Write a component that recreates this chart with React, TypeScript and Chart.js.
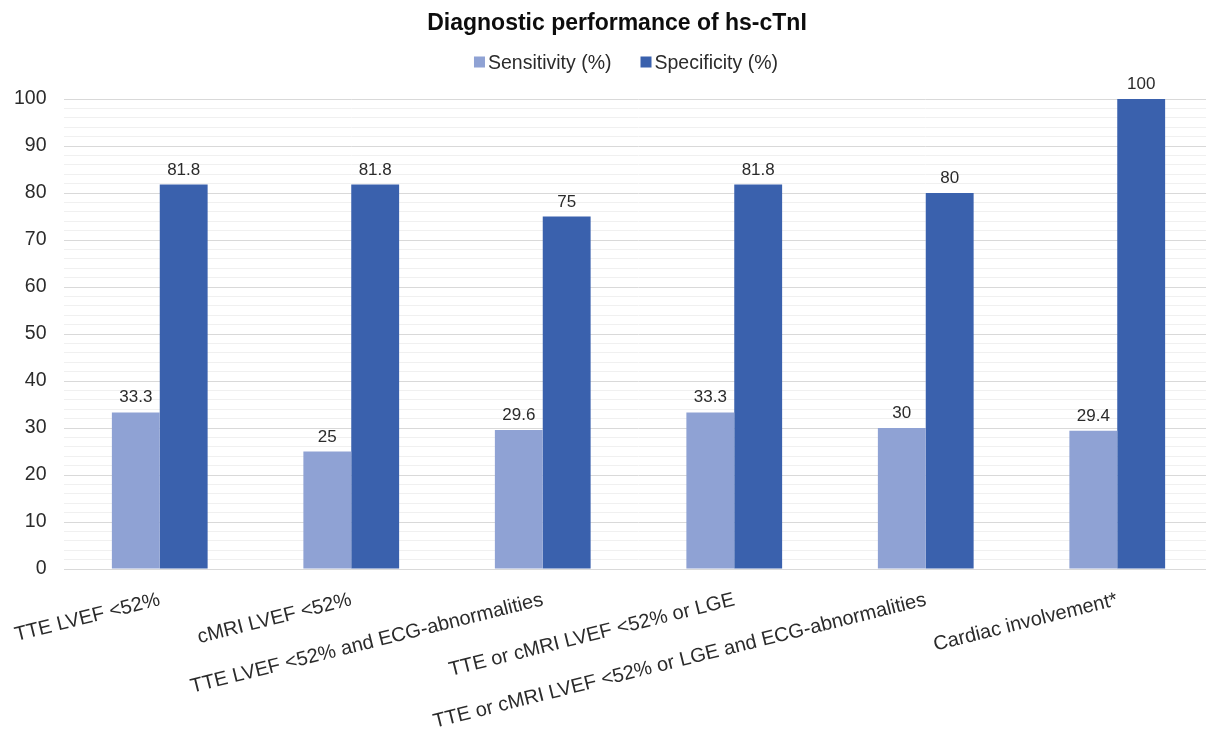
import { useEffect, useRef } from 'react';
import { Chart, registerables } from 'chart.js';

Chart.register(...registerables);

const chartTitle = 'Diagnostic performance of hs-cTnI';
const categories = [
  'TTE LVEF <52%',
  'cMRI LVEF <52%',
  'TTE LVEF <52% and ECG-abnormalities',
  'TTE or cMRI LVEF <52% or LGE',
  'TTE or cMRI LVEF <52% or LGE and ECG-abnormalities',
  'Cardiac involvement*',
];
const seriesNames = ['Sensitivity (%)', 'Specificity (%)'];
const sensitivity = [33.3, 25, 29.6, 33.3, 30, 29.4];
const specificity = [81.8, 81.8, 75, 81.8, 80, 100];
const seriesColors = ['#8FA2D4', '#3A61AD'];
const yMin = 0;
const yMax = 100;
const yMajorStep = 10;
const yMinorStep = 2;

const FONT = '"Liberation Sans", Arial, sans-serif';
const TEXT = '#2b2b2b';

// Title, legend and value labels drawn straight onto the canvas
const decorations = {
  id: 'decorations',
  afterDatasetsDraw(chart: Chart) {
    const ctx = chart.ctx;
    ctx.save();
    ctx.fillStyle = TEXT;
    ctx.font = `17px ${FONT}`;
    ctx.textAlign = 'center';
    ctx.textBaseline = 'alphabetic';
    chart.data.datasets.forEach((ds, i) => {
      const meta = chart.getDatasetMeta(i);
      meta.data.forEach((bar: any, j: number) => {
        const v = ds.data[j] as number;
        ctx.fillText(String(v), bar.x, bar.y - 10);
      });
    });
    ctx.restore();
  },
  afterDraw(chart: Chart) {
    const ctx = chart.ctx;
    ctx.save();
    // title
    ctx.fillStyle = '#0d0d0d';
    ctx.font = `bold 23px ${FONT}`;
    ctx.textAlign = 'center';
    ctx.textBaseline = 'alphabetic';
    ctx.fillText(chartTitle, 617, 30);

    // legend
    ctx.font = `19.5px ${FONT}`;
    ctx.textAlign = 'left';
    const box = 11;
    const boxGap = 3;
    const itemGap = 29;
    const widths = chart.data.datasets.map((ds) => box + boxGap + ctx.measureText(String(ds.label)).width);
    const total = widths.reduce((a, b) => a + b, 0) + itemGap * (widths.length - 1);
    let x = 626 - total / 2;
    const cy = 62;
    chart.data.datasets.forEach((ds, i) => {
      ctx.fillStyle = ds.backgroundColor as string;
      ctx.fillRect(x, cy - box / 2, box, box);
      ctx.fillStyle = TEXT;
      ctx.fillText(String(ds.label), x + box + boxGap, cy + 7);
      x += widths[i] + itemGap;
    });
    ctx.restore();
  },
};

export default function App() {
  const ref = useRef<HTMLCanvasElement>(null);

  useEffect(() => {
    const chart = new Chart(ref.current!, {
      type: 'bar',
      data: {
        labels: categories,
        datasets: [
          { label: seriesNames[0], data: sensitivity, backgroundColor: seriesColors[0] },
          { label: seriesNames[1], data: specificity, backgroundColor: seriesColors[1] },
        ],
      },
      options: {
        responsive: false,
        animation: false,
        devicePixelRatio: 1,
        layout: { padding: { left: 14, top: 99, right: 0, bottom: 0 } },
        datasets: { bar: { categoryPercentage: 0.5, barPercentage: 1 } },
        plugins: {
          legend: { display: false },
          title: { display: false },
          tooltip: { enabled: false },
        },
        scales: {
          x: {
            grid: { display: false, drawTicks: false },
            border: { display: true, color: '#d9d9d9', width: 1 },
            ticks: {
              autoSkip: false,
              minRotation: 14,
              maxRotation: 14,
              padding: 19,
              color: TEXT,
              font: { family: FONT, size: 20 },
            },
            afterFit: (scale: any) => {
              scale.height = 164;
              scale.paddingLeft = 0;
              scale.paddingRight = 0;
            },
          },
          y: {
            min: yMin,
            max: yMax,
            grid: {
              drawTicks: false,
              color: (c: any) => (c.tick && c.tick.value % yMajorStep === 0 ? '#d9d9d9' : '#f0f0f0'),
              lineWidth: 1,
            },
            border: { display: false },
            ticks: {
              stepSize: yMinorStep,
              autoSkip: false,
              maxTicksLimit: 101,
              padding: 17.5,
              color: TEXT,
              font: { family: FONT, size: 19.5 },
              callback: (v: any) => (Number(v) % yMajorStep === 0 ? String(v) : ''),
            },
            afterFit: (scale: any) => {
              scale.width = 50;
            },
          },
        },
      },
      plugins: [decorations],
    });
    return () => chart.destroy();
  }, []);

  return (
    <div
      style={{
        position: 'fixed',
        left: 0,
        top: 0,
        width: 1206,
        height: 733,
        overflow: 'hidden',
        background: '#ffffff',
      }}
    >
      <canvas ref={ref} width={1213} height={733} style={{ display: 'block', width: 1213, height: 733 }} />
    </div>
  );
}
